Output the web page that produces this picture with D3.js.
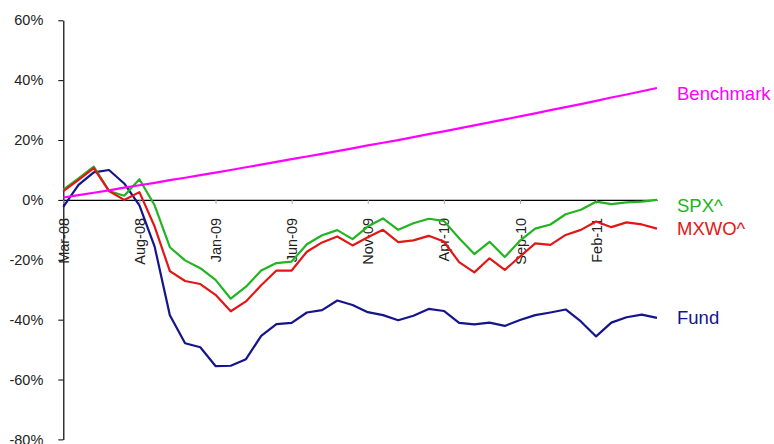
<!DOCTYPE html>
<html>
<head>
<meta charset="utf-8">
<script src="https://cdn.jsdelivr.net/npm/d3@7"></script>
<style>
  html, body { margin: 0; padding: 0; background: #fff; }
  svg { display: block; font-family: "Liberation Sans", Arial, sans-serif; }
</style>
</head>
<body>
<svg id="chart" width="774" height="444"></svg>
<script>
// ---- data ----
const months = ["Mar-08","Apr-08","May-08","Jun-08","Jul-08","Aug-08","Sep-08","Oct-08","Nov-08","Dec-08",
  "Jan-09","Feb-09","Mar-09","Apr-09","May-09","Jun-09","Jul-09","Aug-09","Sep-09","Oct-09",
  "Nov-09","Dec-09","Jan-10","Feb-10","Mar-10","Apr-10","May-10","Jun-10","Jul-10","Aug-10",
  "Sep-10","Oct-10","Nov-10","Dec-10","Jan-11","Feb-11","Mar-11","Apr-11","May-11","Jun-11"];
const xTickLabels = ["Mar-08","Aug-08","Jan-09","Jun-09","Nov-09","Apr-10","Sep-10","Feb-11"];
const yTicks = [-80, -60, -40, -20, 0, 20, 40, 60];

const fund = [-2.3, 5.0, 9.2, 10.0, 5.5, -1.8, -15.6, -38.5, -47.9, -49.2,
  -55.5, -55.4, -53.2, -45.4, -41.5, -41.1, -37.6, -36.8, -33.6, -35.1,
  -37.5, -38.5, -40.2, -38.7, -36.4, -37.1, -41.1, -41.6, -41.0, -42.1,
  -40.1, -38.5, -37.6, -36.6, -40.6, -45.6, -41.0, -39.2, -38.3, -39.4];
const spx = [3.4, 7.2, 11.1, 3.0, 1.4, 6.9, -1.8, -15.8, -20.2, -22.8,
  -26.7, -33.0, -29.0, -23.6, -21.1, -20.6, -14.8, -11.8, -10.1, -13.1,
  -8.9, -6.2, -10.0, -7.8, -6.3, -7.0, -12.8, -18.1, -14.0, -19.1,
  -13.6, -9.6, -8.2, -4.8, -3.3, -0.6, -1.4, -0.8, -0.6, 0.0];
const mxwo = [2.9, 6.7, 10.6, 3.0, 0.0, 2.6, -8.9, -23.8, -27.1, -28.1,
  -31.7, -37.2, -33.9, -28.5, -23.6, -23.6, -17.3, -14.2, -12.2, -15.2,
  -12.5, -10.0, -14.1, -13.5, -12.0, -13.9, -20.8, -24.2, -19.5, -23.4,
  -18.9, -14.5, -15.0, -11.7, -10.0, -7.2, -9.1, -7.5, -8.2, -9.6];
const benchmark = [0.8, 1.6, 2.4, 3.2, 4.1, 4.9, 5.7, 6.6, 7.4, 8.3,
  9.1, 10.0, 10.9, 11.8, 12.7, 13.6, 14.5, 15.4, 16.3, 17.2,
  18.2, 19.1, 20.0, 21.0, 22.0, 22.9, 23.9, 24.9, 25.9, 26.9,
  27.9, 28.9, 30.0, 31.0, 32.0, 33.1, 34.2, 35.2, 36.3, 37.4];

const seriesNames = ["Fund", "SPX^", "MXWO^", "Benchmark"];
const seriesValues = [fund, spx, mxwo, benchmark];

// ---- styling ----
const colors = { "Fund": "#14148c", "SPX^": "#22b422", "MXWO^": "#e31616", "Benchmark": "#ff00ff" };
const labelNudge = { "Fund": 0, "SPX^": 6, "MXWO^": 0, "Benchmark": 6 };

const svg = d3.select("#chart");
const x = d3.scalePoint().domain(months).range([63.3, 657]).padding(0);
const y = d3.scaleLinear().domain([-80, 60]).range([439.4, 20.3]);

// Y axis
const yAxis = svg.append("g")
  .attr("transform", `translate(${x(months[0])},0)`)
  .call(d3.axisLeft(y).tickValues(yTicks).tickFormat(d => d + "%").tickSize(5).tickSizeOuter(0).tickPadding(15));
yAxis.select(".domain").attr("stroke", "#000").attr("stroke-width", 1.2);
yAxis.selectAll(".tick line").attr("stroke", "#000");
yAxis.selectAll(".tick text").attr("fill", "#222").style("font-size", "14.5px");

// X axis at zero
const xAxis = svg.append("g")
  .attr("transform", `translate(0,${y(0)})`)
  .call(d3.axisBottom(x).tickValues(xTickLabels).tickSize(4).tickSizeOuter(0).tickPadding(0));
xAxis.select(".domain").attr("stroke", "#000").attr("stroke-width", 1.2);
xAxis.selectAll(".tick line").attr("stroke", "#aaa");
xAxis.selectAll(".tick text")
  .attr("fill", "#222")
  .style("font-size", "14.5px")
  .attr("transform", "rotate(-90)")
  .attr("text-anchor", "end")
  .attr("x", -18)
  .attr("y", 0)
  .attr("dy", "0.35em");

// Lines
const line = d3.line().x((d, i) => x(months[i])).y(d => y(d));
seriesNames.forEach((name, k) => {
  svg.append("path")
    .datum(seriesValues[k])
    .attr("fill", "none")
    .attr("stroke", colors[name])
    .attr("stroke-width", 2.2)
    .attr("stroke-linejoin", "round")
    .attr("d", line);
});

// End labels
seriesNames.forEach((name, k) => {
  const vals = seriesValues[k];
  svg.append("text")
    .attr("x", x(months[months.length - 1]) + 20)
    .attr("y", y(vals[vals.length - 1]) + labelNudge[name])
    .attr("dy", "0.35em")
    .attr("fill", colors[name])
    .style("font-size", "18.5px")
    .text(name);
});
</script>
</body>
</html>
